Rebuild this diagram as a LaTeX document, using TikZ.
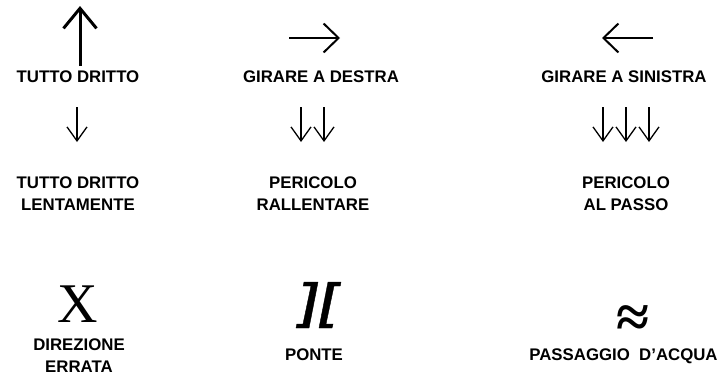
\documentclass[tikz,border=0pt]{standalone}
\usepackage{fontspec}
\setmainfont{Liberation Sans}
\newfontfamily\serifx{Liberation Serif}
\usetikzlibrary{arrows.meta}
\tikzstyle{lb}=[inner sep=0pt, anchor=base, align=center, font=\fontsize{16.8}{21.5}\selectfont\bfseries]
\tikzstyle{upar}=[line width=3pt, -{Straight Barb[length=20pt,width=33pt]}]
\tikzstyle{sar}=[line width=2pt, -{Straight Barb[length=15pt,width=29pt]}]
\tikzstyle{dar}=[line width=1.3pt, -{Straight Barb[length=14pt,width=20pt]}]
\tikzstyle{bd}=[fill=black]
\begin{document}
\begin{tikzpicture}[x=1pt, y=-1pt]
%%position
\useasboundingbox (0,0) rectangle (728,378);
%%tutto dritto
\draw[upar] (80,66) -- (80,6);
\node[lb] (td) at (78,82) {TUTTO DRITTO};
%%girare a destra
\draw[sar] (289,38) -- (340,38);
\node[lb] (gd) at (321,82) {GIRARE A DESTRA};
%%girare a sinistra
\draw[sar] (653,38) -- (602,38);
\node[lb] (gs) at (624,82) {GIRARE A SINISTRA};
%%lentamente
\draw[dar] (77,107) -- (77,142);
\node[lb] (tl) at (78,210) {TUTTO DRITTO\\LENTAMENTE};
%%rallentare
\draw[dar] (301,107) -- (301,142);
\draw[dar] (324,107) -- (324,142);
\node[lb] (pr) at (313,210) {PERICOLO\\RALLENTARE};
%%al passo
\draw[dar] (603,107) -- (603,142);
\draw[dar] (626,107) -- (626,142);
\draw[dar] (649,107) -- (649,142);
\node[lb] (pp) at (626,210) {PERICOLO\\AL PASSO};
%%direzione errata
\node[inner sep=0pt, anchor=base, font=\serifx\fontsize{56}{56}\selectfont] (xx) at (78,322) {X};
\node[lb] (de) at (79,372) {DIREZIONE\\ERRATA};
%%ponte
\draw[bd] (304,282) -- (318,282) -- (309,328) -- (296,328) -- (296.8,324) -- (303,324) -- (311,286) -- (303.2,286) -- cycle;
\draw[bd] (328,282) -- (341,282) -- (340.2,286) -- (334,286) -- (326,324) -- (333,324) -- (332,328) -- (319,328) -- cycle;
\node[lb] (po) at (314,360) {PONTE};
%%passaggio d'acqua
\node[inner sep=0pt, anchor=base, font=\serifx\bfseries\fontsize{60}{60}\selectfont] (aq) at (633,337) {≈};
\node[lb] (pa) at (623.5,360) {PASSAGGIO\ \ D’ACQUA};
\end{tikzpicture}
\end{document}
